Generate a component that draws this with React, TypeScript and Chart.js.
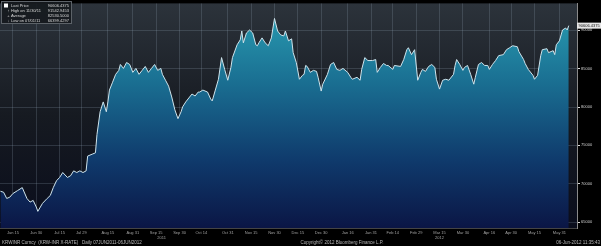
import React, { useEffect, useRef } from "react";
import { Chart, registerables } from "chart.js";
Chart.register(...registerables);

// calendar-day offsets from 07 Jun 2011
const dayOffsets = [
  0, 2, 4, 6, 8, 11, 14, 17, 19, 21, 23, 24, 27, 30, 32, 34, 36, 38, 40, 43, 45, 47, 49, 51, 53, 55, 56, 59, 61, 62,
  64, 66, 68, 69, 70, 72, 74, 76, 77, 79, 81, 83, 85, 87, 89, 91, 93, 95, 97, 99, 101, 103, 104, 106, 108, 110, 112,
  114, 116, 117, 119, 121, 123, 125, 127, 128, 130, 133, 135, 136, 138, 140, 142, 144, 146, 148, 149, 152, 154, 155,
  156, 158, 160, 162, 164, 165, 166, 168, 170, 172, 174, 176, 178, 180, 182, 183, 185, 187, 188, 190, 192, 194, 195,
  196, 197, 199, 201, 203, 204, 206, 207, 210, 212, 214, 216, 218, 220, 223, 225, 226, 229, 231, 232, 234, 236, 239,
  241, 242, 244, 246, 248, 249, 252, 253, 257, 259, 261, 262, 264, 266, 268, 270, 271, 273, 275, 277, 279, 280, 282,
  284, 286, 288, 291, 292, 293, 295, 297, 298, 300, 302, 304, 305, 307, 309, 311, 313, 314, 316, 318, 320, 323, 325,
  327, 329, 332, 333, 336, 337, 339, 342, 343, 345, 347, 348, 351, 352, 355, 356, 357, 359, 361, 363, 364, 365,
];
const prices = [
  69019, 68891, 68082, 68249, 68724, 69109, 69494, 68082, 67607, 67825, 66965, 66399, 67440, 68082, 68467, 69533,
  70393, 70817, 71459, 70817, 71035, 71677, 71459, 71677, 71459, 71677, 73603, 73860, 74027, 76428, 79381, 80665,
  79381, 80665, 82206, 83233, 84260, 84774, 85544, 85030, 85801, 85544, 84517, 85030, 84260, 84774, 85287, 84517,
  85030, 85544, 84774, 85030, 84260, 83490, 82719, 81307, 79638, 78482, 79381, 80023, 80665, 81179, 81692, 81436,
  81949, 81949, 82206, 81949, 81050, 80793, 82206, 83618, 86443, 84902, 83490, 85159, 86443, 88112, 88754, 89910,
  88369, 89653, 90038, 89653, 88112, 87984, 88369, 89011, 88369, 87984, 89011, 91542, 89910, 89396, 89268, 89910,
  88626, 88883, 87085, 85801, 83618, 84132, 84260, 85416, 85287, 84517, 84774, 84645, 83875, 82078, 82976, 84260,
  85544, 85801, 84902, 84774, 85030, 84517, 83875, 83618, 83875, 83490, 84902, 86443, 86058, 86058, 86186, 84517,
  85159, 85673, 85416, 85416, 84902, 85416, 85287, 86186, 87471, 87727, 86828, 87471, 83490, 84517, 84902, 84645,
  85287, 85544, 85159, 83618, 82334, 83490, 83618, 83490, 84260, 85416, 86186, 85544, 84774, 85159, 85416, 84260,
  82976, 83875, 85544, 85801, 85416, 85416, 84902, 85544, 86058, 86699, 86828, 87471, 87727, 87984, 87856, 87214,
  86186, 85673, 84902, 84132, 83618, 84132, 86699, 87471, 87599, 87085, 87342, 86828, 88112, 88626, 90038, 90295,
  90038, 90606,
];

const tickDays = [8, 23, 38, 52, 69, 85, 100, 115, 129, 146, 161, 176, 191, 206, 223, 238, 252, 267, 282, 297, 314, 328, 343, 359];
const tickLabels = [
  "Jun 15", "Jun 30", "Jul 15", "Jul 29", "Aug 15", "Aug 31", "Sep 15", "Sep 30", "Oct 14", "Oct 31", "Nov 15", "Nov 30",
  "Dec 15", "Dec 30", "Jan 16", "Jan 31", "Feb 14", "Feb 29", "Mar 15", "Mar 30", "Apr 16", "Apr 30", "May 15", "May 31",
];
const yTicks = [65000, 70000, 75000, 80000, 85000, 90000];
const yearLabels = ["2011", "2012"];
const yearDays = [103.5, 282];
const legendNames = ["Last Price", "High on 11/30/11", "Average", "Low on 07/01/11"];
const legendValues = ["90606.4375", "91542.9453", "82530.5000", "66399.4297"];
const lastPriceLabel = "90606.4375";
const footerLeft = "KRWINR Curncy  (KRW-INR X-RATE)   Daily 07JUN2011-06JUN2012";
const footerMid = "Copyright\u00A9 2012 Bloomberg Finance L.P.";
const footerRight = "06-Jun-2012 11:35:43";

const FONT = "'Liberation Sans', Arial, sans-serif";

const decorPlugin = {
  id: "decor",
  beforeDraw(chart: any) {
    const { ctx, chartArea: a, width, height } = chart;
    ctx.save();
    ctx.fillStyle = "#000";
    ctx.fillRect(0, 0, width, height);
    const g = ctx.createLinearGradient(0, a.top, 0, a.bottom);
    g.addColorStop(0, "#2c333b");
    g.addColorStop(0.5, "#161a21");
    g.addColorStop(1, "#0a0d1c");
    ctx.fillStyle = g;
    ctx.fillRect(a.left, a.top, a.right - a.left, a.bottom - a.top);
    ctx.restore();
  },
  afterDraw(chart: any) {
    const { ctx, chartArea: a, scales } = chart;
    const xs = scales.x;
    const ys = scales.y;
    ctx.save();
    // year labels
    ctx.font = `4px ${FONT}`;
    ctx.fillStyle = "#a0a0a0";
    ctx.textAlign = "center";
    ctx.textBaseline = "middle";
    yearLabels.forEach((t, i) => ctx.fillText(t, xs.getPixelForValue(yearDays[i]), 237.5));
    // footer
    ctx.font = `4.5px ${FONT}`;
    ctx.fillStyle = "#b8b8b8";
    ctx.textAlign = "left";
    ctx.fillText(footerLeft, 2, 242.5);
    ctx.textAlign = "center";
    ctx.fillText(footerMid, 342, 242.5);
    ctx.textAlign = "right";
    ctx.fillText(footerRight, 600, 242.5);
    // last price tag
    const ly = ys.getPixelForValue(prices[prices.length - 1]);
    ctx.fillStyle = "#e6e6e6";
    ctx.fillRect(a.right, ly - 3, 24, 6);
    ctx.fillStyle = "#111";
    ctx.textAlign = "left";
    ctx.font = `4px ${FONT}`;
    ctx.fillText(lastPriceLabel, a.right + 1.5, ly + 0.3);
    // legend box
    ctx.fillStyle = "rgba(22,26,30,0.92)";
    ctx.fillRect(1.5, 1.5, 70, 22);
    ctx.strokeStyle = "#5c6268";
    ctx.lineWidth = 1;
    ctx.strokeRect(1.5, 1.5, 70, 22);
    ctx.fillStyle = "#ffffff";
    ctx.fillRect(4, 3.5, 4, 4);
    ctx.font = `4px ${FONT}`;
    ctx.fillStyle = "#d8d8d8";
    legendNames.forEach((n, i) => {
      const y = 6 + i * 5;
      ctx.textAlign = "left";
      ctx.fillText(n, 11, y);
      ctx.textAlign = "right";
      ctx.fillText(legendValues[i], 69, y);
      if (i > 0) ctx.fillText(i === 1 ? "\u2191" : i === 2 ? "+" : "\u2193", 9.5, y);
    });
    ctx.restore();
  },
};

export default function App() {
  const ref = useRef<HTMLCanvasElement | null>(null);
  useEffect(() => {
    document.body.style.margin = "0";
    document.body.style.background = "#000";
    const data = dayOffsets.map((d, i) => ({ x: d, y: prices[i] }));
    const chart = new Chart(ref.current as HTMLCanvasElement, {
      type: "line",
      data: {
        datasets: [
          {
            data,
            borderColor: "#cfe4ec",
            borderWidth: 1,
            pointRadius: 0,
            tension: 0,
            fill: "start",
            backgroundColor: (c: any) => {
              const a = c.chart.chartArea;
              if (!a) return "#1a7f99";
              const g = c.chart.ctx.createLinearGradient(0, a.top, 0, a.bottom);
              g.addColorStop(0, "#2aa0b4");
              g.addColorStop(0.35, "#1a6f92");
              g.addColorStop(0.7, "#0f3a6c");
              g.addColorStop(1, "#0b1645");
              return g;
            },
          },
        ],
      },
      options: {
        animation: false,
        responsive: true,
        maintainAspectRatio: false,
        layout: { padding: 0 },
        plugins: { legend: { display: false }, tooltip: { enabled: false } },
        scales: {
          x: {
            type: "linear",
            min: -0.3,
            max: 370.3,
            z: 1,
            afterBuildTicks: (s: any) => {
              s.ticks = tickDays.map((v) => ({ value: v }));
            },
            afterFit: (s: any) => {
              s.height = 18;
            },
            grid: { color: "rgba(150,170,185,0.22)", lineWidth: 1, tickLength: 0, drawTicks: false },
            border: { color: "#444", width: 1 },
            ticks: {
              autoSkip: false,
              maxRotation: 0,
              padding: 2,
              color: "#a0a0a0",
              font: { size: 4, family: FONT },
              callback: (v: any) => {
                const i = tickDays.indexOf(Number(v));
                return i >= 0 ? tickLabels[i] : "";
              },
            },
          },
          y: {
            position: "right",
            min: 64230,
            max: 93505,
            z: 1,
            afterBuildTicks: (s: any) => {
              s.ticks = yTicks.map((v) => ({ value: v }));
            },
            afterFit: (s: any) => {
              s.width = 24;
            },
            grid: { color: "rgba(150,170,185,0.22)", lineWidth: 1, tickLength: 3, tickColor: "#dddddd" },
            border: { color: "#8a8a8a", width: 1 },
            ticks: {
              padding: 1,
              color: "#d0d0d0",
              font: { size: 4, family: FONT },
              callback: (v: any) => String(v),
            },
          },
        },
      },
      plugins: [decorPlugin],
    } as any);
    return () => chart.destroy();
  }, []);
  return (
    <div style={{ width: 601, height: 246, position: "relative" }}>
      <canvas ref={ref} />
    </div>
  );
}
